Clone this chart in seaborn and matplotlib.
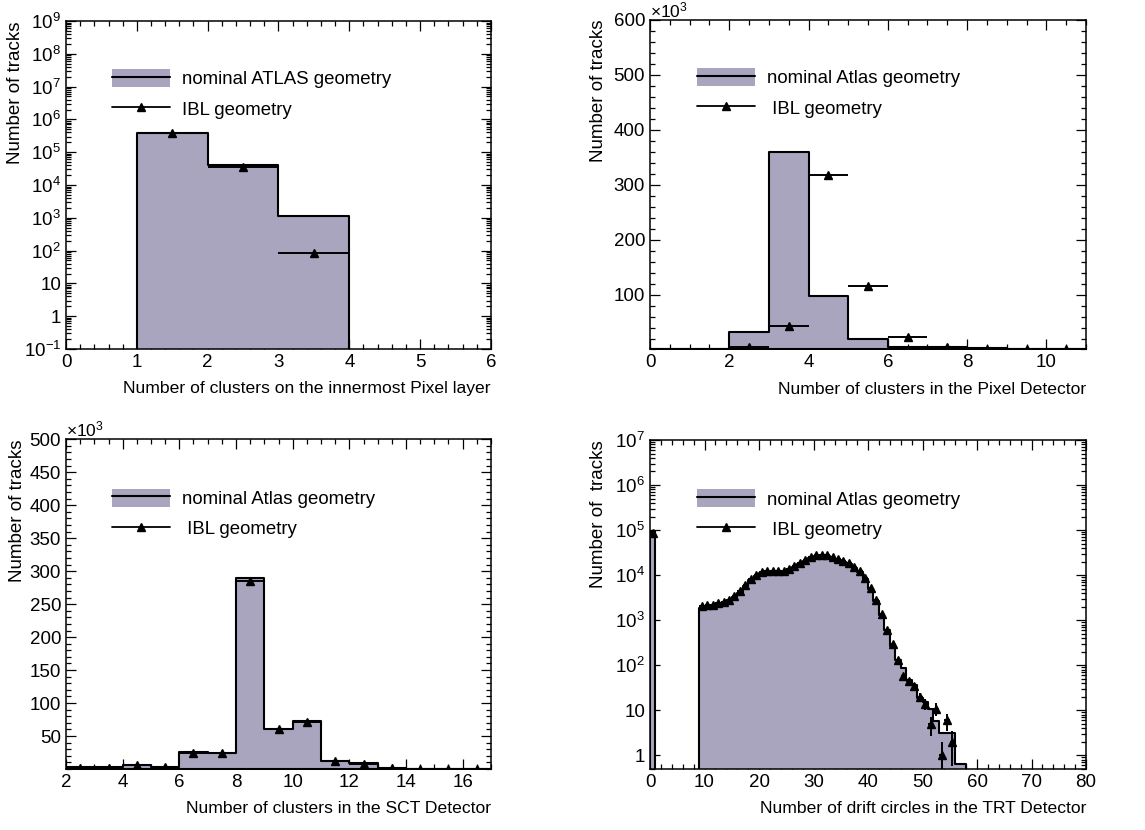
import numpy as np
import pandas as pd
import matplotlib
matplotlib.use("Agg")
import matplotlib.pyplot as plt
import seaborn as sns
from matplotlib.ticker import (FixedLocator, FixedFormatter, LogLocator,
                               NullFormatter, MultipleLocator)
from matplotlib.patches import Patch
from matplotlib.lines import Line2D

sns.set_style("ticks")
plt.rcParams["font.family"] = ["Liberation Sans", "DejaVu Sans"]
plt.rcParams["mathtext.fontset"] = "custom"
plt.rcParams["mathtext.rm"] = "Liberation Sans"
plt.rcParams["mathtext.it"] = "Liberation Sans:italic"
plt.rcParams["mathtext.bf"] = "Liberation Sans:bold"
for k in ["text.color", "axes.labelcolor", "xtick.color", "ytick.color",
          "axes.edgecolor"]:
    plt.rcParams[k] = "black"

FILL = "#a9a5bf"

# ---------------- data ----------------
# Panel 1: clusters on innermost pixel layer (bins 0..6)
p1_edges = [0, 1, 2, 3, 4, 5, 6]
p1_nominal = [0, 3.9e5, 4.0e4, 1150, 0, 0]
p1_ibl = [0, 3.8e5, 3.6e4, 83, 0, 0]

# Panel 2: clusters in Pixel detector (x10^3), bins 0..11
p2_edges = [0, 1, 2, 3, 4, 5, 6, 7, 8, 9, 10, 11]
p2_nominal = [0, 0, 31, 360, 98, 20, 4, 5, 2, 1, 0.5]
p2_ibl = [0, 0, 4, 43, 318, 116, 23.5, 5, 1, 0.5, 0.3]

# Panel 3: clusters in SCT (x10^3), bins 2..17
p3_edges = [2, 3, 4, 5, 6, 7, 8, 9, 10, 11, 12, 13, 14, 15, 16, 17]
p3_nominal = [2.5, 2.5, 6.5, 3.5, 26, 25, 289, 61, 73, 12.6, 8.6, 1.5, 0.5, 0.3, 0.2]
p3_ibl = [1.5, 1.5, 6, 3, 25, 25, 285, 60, 71, 11.6, 8, 1.5, 0.5, 0.3, 0.2]

# Panel 4: drift circles in TRT, bins 0..58
p4_edges = list(range(0, 59))
p4_nominal = [95000, 0, 0, 0, 0, 0, 0, 0, 0,
              1900, 2000, 2100, 2250, 2350, 2700, 3300, 4100, 5800, 7800,
              9700, 11200, 11800, 11800, 11700, 11800, 12800, 15000, 17800, 20500,
              24000, 26500, 27300, 26500, 24500, 22000, 19500, 17400, 14700, 11600,
              8200, 4900, 2700, 1330, 600, 270, 128, 85, 48, 36,
              19, 15, 10.7, 5.7, 3.1, 3.1, 3.1, 0.65, 0.65]
p4_ibl = [87000, 0, 0, 0, 0, 0, 0, 0, 0,
          2040, 2130, 2230, 2450, 2500, 2870, 3540, 4400, 6200, 8300,
          10300, 11800, 12300, 12300, 12300, 12300, 13400, 15800, 18700, 21400,
          25000, 27500, 28400, 27500, 25500, 23000, 20500, 18300, 15400, 12300,
          8700, 5200, 2870, 1400, 620, 290, 134, 57, 44, 34,
          20, 14, 5, 11, 1, 6, 2, 0, 0]

xlabels = ["Number of clusters on the innermost Pixel layer",
           "Number of clusters in the Pixel Detector",
           "Number of clusters in the SCT Detector",
           "Number of drift circles in the TRT Detector"]
ylabels = ["Number of tracks", "Number of tracks", "Number of tracks",
           "Number of  tracks"]
leg_nominal = ["nominal ATLAS geometry", "nominal Atlas geometry",
               "nominal Atlas geometry", "nominal Atlas geometry"]
leg_ibl = ["IBL geometry", " IBL geometry", " IBL geometry", " IBL geometry"]

TICK_FS = 13.5
XLABEL_FS = 12.6
YLABEL_FS = 13.5
LEG_FS = 13.4

fig = plt.figure(figsize=(11.45, 8.30), dpi=100)
positions = [
    [66 / 1145, 1 - 349 / 830, 425 / 1145, 328 / 830],
    [650 / 1145, 1 - 349.5 / 830, 436 / 1145, 329.5 / 830],
    [66 / 1145, 1 - 769 / 830, 425 / 1145, 329.7 / 830],
    [650 / 1145, 1 - 769 / 830, 436 / 1145, 329 / 830],
]
axes = [fig.add_axes(p) for p in positions]


def draw_hist(ax, edges, nominal, ibl, with_err=False):
    edges_arr = np.asarray(edges, dtype=float)
    centers = 0.5 * (edges_arr[:-1] + edges_arr[1:])
    nominal = np.asarray(nominal, dtype=float)
    ibl = np.asarray(ibl, dtype=float)
    df = pd.DataFrame({"x": centers, "w": nominal})
    sns.histplot(data=df, x="x", weights="w", bins=[float(e) for e in edges],
                 element="step", fill=True, color=FILL, alpha=1.0,
                 edgecolor="black", linewidth=1.5, ax=ax, zorder=2)
    m = ibl > 0
    yerr = np.sqrt(ibl[m]) if with_err else None
    ax.errorbar(centers[m], ibl[m], xerr=0.5, yerr=yerr, fmt="^",
                color="black", ms=5.5, elinewidth=1.4, capsize=0, zorder=4)


def log_ticks(ax, lo, hi):
    vals, labs = [], []
    for e in range(lo, hi + 1):
        vals.append(10.0 ** e)
        if e == 0:
            labs.append("1")
        elif e == 1:
            labs.append("10")
        else:
            labs.append(r"$\mathregular{10^{%d}}$" % e)
    ax.yaxis.set_major_locator(FixedLocator(vals))
    ax.yaxis.set_major_formatter(FixedFormatter(labs))
    ax.yaxis.set_minor_locator(LogLocator(base=10, subs=np.arange(2, 10), numticks=100))
    ax.yaxis.set_minor_formatter(NullFormatter())


# Panel 1
ax = axes[0]
draw_hist(ax, p1_edges, p1_nominal, p1_ibl)
ax.set_yscale("log")
ax.set_xlim(0, 6)
ax.set_ylim(0.1, 1e9)
log_ticks(ax, -1, 9)
ax.xaxis.set_major_locator(MultipleLocator(1))
ax.xaxis.set_minor_locator(MultipleLocator(0.2))

# Panel 2
ax = axes[1]
draw_hist(ax, p2_edges, p2_nominal, p2_ibl)
ax.set_xlim(0, 11)
ax.set_ylim(0, 600)
ax.yaxis.set_major_locator(FixedLocator([100, 200, 300, 400, 500, 600]))
ax.yaxis.set_minor_locator(MultipleLocator(20))
ax.xaxis.set_major_locator(MultipleLocator(2))
ax.xaxis.set_minor_locator(MultipleLocator(0.5))
ax.text(0.0, 1.0, r"$\mathregular{\times10^{3}}$", transform=ax.transAxes,
        ha="left", va="bottom", fontsize=12.5)

# Panel 3
ax = axes[2]
draw_hist(ax, p3_edges, p3_nominal, p3_ibl)
ax.set_xlim(2, 17)
ax.set_ylim(0, 500)
ax.yaxis.set_major_locator(FixedLocator(list(range(50, 501, 50))))
ax.yaxis.set_minor_locator(MultipleLocator(10))
ax.xaxis.set_major_locator(MultipleLocator(2))
ax.xaxis.set_minor_locator(MultipleLocator(0.5))
ax.text(0.0, 1.0, r"$\mathregular{\times10^{3}}$", transform=ax.transAxes,
        ha="left", va="bottom", fontsize=12.5)

# Panel 4
ax = axes[3]
draw_hist(ax, p4_edges, p4_nominal, p4_ibl, with_err=True)
ax.set_yscale("log")
ax.set_xlim(0, 80)
ax.set_ylim(0.5, 1e7)
log_ticks(ax, 0, 7)
ax.xaxis.set_major_locator(MultipleLocator(10))
ax.xaxis.set_minor_locator(MultipleLocator(2))

leg_anchor = [(0.108, 0.854), (0.108, 0.854), (0.108, 0.85), (0.108, 0.85)]
ylab_x = [-0.098, -0.099, -0.095, -0.099]

for i, ax in enumerate(axes):
    ax.set_xlabel(xlabels[i], loc="right", fontsize=XLABEL_FS)
    ax.xaxis.set_label_coords(1.0, -0.098)
    ax.set_ylabel(ylabels[i], loc="top", fontsize=YLABEL_FS)
    ax.yaxis.set_label_coords(ylab_x[i], 1.0)
    ax.tick_params(which="both", direction="in", top=True, right=True,
                   labelsize=TICK_FS, width=0.9, color="black")
    ax.tick_params(which="major", length=7, pad=3.5)
    ax.tick_params(which="minor", length=3.5)
    for s in ax.spines.values():
        s.set_linewidth(1.1)
        s.set_color("black")
        s.set_visible(True)
    ax.set_facecolor("white")
    h_nom = (Patch(facecolor=FILL, edgecolor="none"),
             Line2D([0], [0], color="black", lw=1.5))
    h_ibl = Line2D([0], [0], color="black", lw=1.3, marker="^", ms=5.5)
    ax.legend([h_nom, h_ibl], [leg_nominal[i], leg_ibl[i]], loc="upper left",
              bbox_to_anchor=leg_anchor[i], frameon=False, fontsize=LEG_FS,
              handlelength=3.1, handleheight=1.1, handletextpad=0.65,
              labelspacing=0.6, borderpad=0, borderaxespad=0)

fig.savefig("out.png", dpi=100, facecolor="white")
